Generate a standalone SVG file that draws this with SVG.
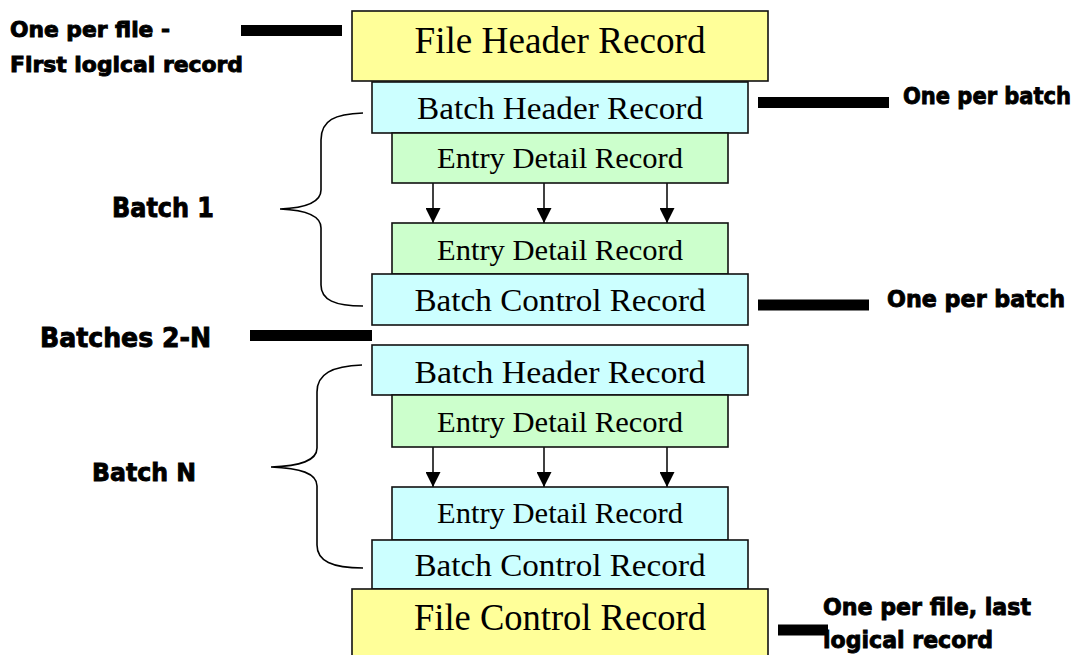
<svg xmlns="http://www.w3.org/2000/svg" width="1081" height="655" viewBox="0 0 1081 655">
<style>
.box{stroke:#111;stroke-width:1.6}
.file{fill:#FFFF99}
.batch{fill:#CCFFFF}
.entry{fill:#CCFFCC}
.rt{font-family:"Liberation Serif","Times New Roman",serif;fill:#000;text-anchor:middle}
.lbl{font-family:"DejaVu Sans","Liberation Sans",sans-serif;font-weight:bold;fill:#000;stroke:#000;stroke-width:0.9}
.bar{stroke:#000;stroke-width:11}
.arr{stroke:#000;stroke-width:1.5;fill:none}
.brace{stroke:#000;stroke-width:1.6;fill:none}
</style>
<defs>
<marker id="ah" viewBox="0 0 15 15" refX="15" refY="7.5" markerWidth="15" markerHeight="15" markerUnits="userSpaceOnUse" orient="auto">
<path d="M0,0 L15,7.5 L0,15 z" fill="#000"/>
</marker>
</defs>
<rect width="1081" height="655" fill="#fff"/>

<g id="connectors">
<line class="bar" x1="241" y1="30.5" x2="342" y2="30.5"/>
<line class="bar" x1="758" y1="102.5" x2="889" y2="102.5"/>
<line class="bar" x1="758" y1="305" x2="869" y2="305"/>
<line class="bar" x1="250" y1="335.5" x2="372" y2="335.5"/>
<line class="bar" x1="778" y1="630" x2="828" y2="630"/>
<line class="arr" x1="433" y1="183" x2="433" y2="223" marker-end="url(#ah)"/>
<line class="arr" x1="544" y1="183" x2="544" y2="223" marker-end="url(#ah)"/>
<line class="arr" x1="667" y1="183" x2="667" y2="223" marker-end="url(#ah)"/>
<line class="arr" x1="433" y1="447" x2="433" y2="487" marker-end="url(#ah)"/>
<line class="arr" x1="544" y1="447" x2="544" y2="487" marker-end="url(#ah)"/>
<line class="arr" x1="667" y1="447" x2="667" y2="487" marker-end="url(#ah)"/>
<path class="brace" d="M363,113 C335,114 321,120 321,140 L321,190 C321,203 305,208 280,209 C305,210 321,215 321,228 L321,285 C321,300 335,306 363,306"/>
<path class="brace" d="M362,365 C332,366 317,374 317,392 L317,448 C317,461 300,466 271,467 C300,468 317,473 317,486 L317,545 C317,561 332,568 363,568"/>
</g>

<g id="file-header"><rect class="box file" x="352" y="11" width="416" height="70"/><text class="rt" x="560" y="53" font-size="37" textLength="291" lengthAdjust="spacingAndGlyphs">File Header Record</text></g>
<g id="batch-header-1"><rect class="box batch" x="372" y="82" width="376" height="51"/><text class="rt" x="560" y="119" font-size="32" textLength="286" lengthAdjust="spacingAndGlyphs">Batch Header Record</text></g>
<g id="entry-detail-1a"><rect class="box entry" x="392" y="133" width="336" height="50"/><text class="rt" x="560" y="168" font-size="29" textLength="246" lengthAdjust="spacingAndGlyphs">Entry Detail Record</text></g>
<g id="entry-detail-1b"><rect class="box entry" x="392" y="223" width="336" height="51"/><text class="rt" x="560" y="260" font-size="29" textLength="246" lengthAdjust="spacingAndGlyphs">Entry Detail Record</text></g>
<g id="batch-control-1"><rect class="box batch" x="372" y="274" width="376" height="51"/><text class="rt" x="560" y="311" font-size="32" textLength="291" lengthAdjust="spacingAndGlyphs">Batch Control Record</text></g>
<g id="batch-header-n"><rect class="box batch" x="372" y="345" width="376" height="50"/><text class="rt" x="560" y="383" font-size="32" textLength="291" lengthAdjust="spacingAndGlyphs">Batch Header Record</text></g>
<g id="entry-detail-na"><rect class="box entry" x="392" y="395" width="336" height="52"/><text class="rt" x="560" y="432" font-size="29" textLength="246" lengthAdjust="spacingAndGlyphs">Entry Detail Record</text></g>
<g id="entry-detail-nb"><rect class="box batch" x="392" y="487" width="336" height="53"/><text class="rt" x="560" y="523" font-size="29" textLength="246" lengthAdjust="spacingAndGlyphs">Entry Detail Record</text></g>
<g id="batch-control-n"><rect class="box batch" x="372" y="540" width="376" height="49"/><text class="rt" x="560" y="576" font-size="32" textLength="291" lengthAdjust="spacingAndGlyphs">Batch Control Record</text></g>
<g id="file-control"><rect class="box file" x="352" y="589" width="416" height="80"/><text class="rt" x="560" y="630" font-size="37" textLength="292" lengthAdjust="spacingAndGlyphs">File Control Record</text></g>

<g id="labels">
<text class="lbl" x="10" y="37" font-size="21" textLength="160" lengthAdjust="spacingAndGlyphs">One per file -</text>
<text class="lbl" x="10" y="72" font-size="21" textLength="233" lengthAdjust="spacingAndGlyphs">First logical record</text>
<text class="lbl" x="903" y="104" font-size="23" textLength="168" lengthAdjust="spacingAndGlyphs">One per batch</text>
<text class="lbl" x="112" y="217" font-size="26" textLength="102" lengthAdjust="spacingAndGlyphs">Batch 1</text>
<text class="lbl" x="887" y="307" font-size="23" textLength="178" lengthAdjust="spacingAndGlyphs">One per batch</text>
<text class="lbl" x="40" y="347" font-size="26" textLength="171" lengthAdjust="spacingAndGlyphs">Batches 2-N</text>
<text class="lbl" x="92" y="481" font-size="25" textLength="104" lengthAdjust="spacingAndGlyphs">Batch N</text>
<text class="lbl" x="823" y="615" font-size="23" textLength="208" lengthAdjust="spacingAndGlyphs">One per file, last</text>
<text class="lbl" x="823" y="648" font-size="23" textLength="170" lengthAdjust="spacingAndGlyphs">logical record</text>
</g>
</svg>
